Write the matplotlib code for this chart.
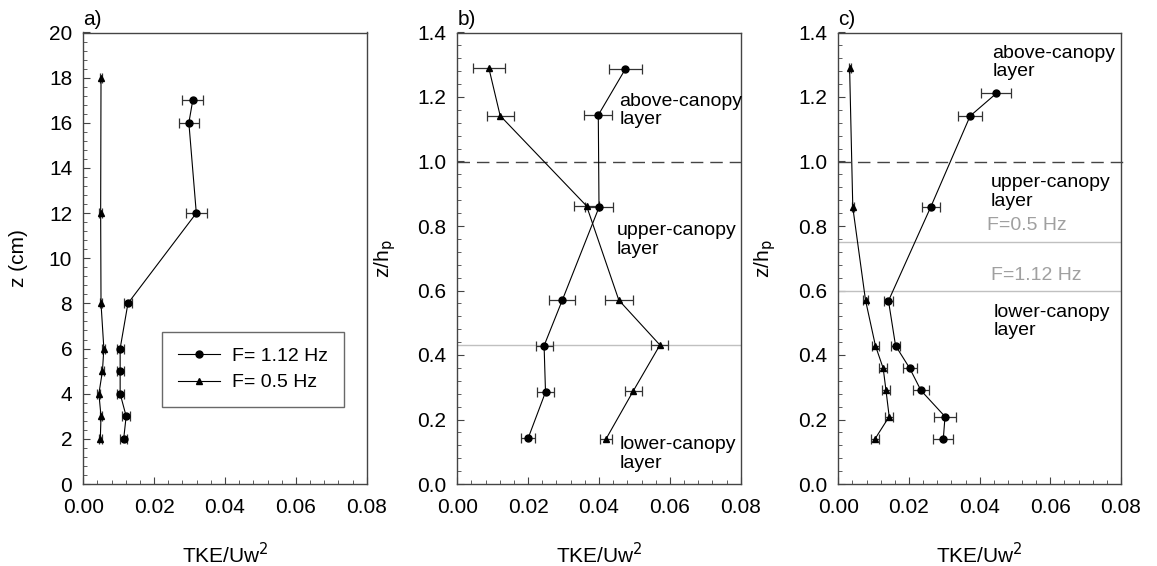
import numpy as np
import matplotlib.pyplot as plt
from matplotlib.lines import Line2D
from matplotlib.ticker import MultipleLocator, FormatStrFormatter

plt.rcParams['font.family'] = ['Liberation Sans', 'DejaVu Sans']
plt.rcParams['font.size'] = 15

# panel a: z in cm
za_hi = [17, 16, 12, 8, 6, 5, 4, 3, 2]
tke_a_hi = [0.0309, 0.0298, 0.0319, 0.0126, 0.0104, 0.0104, 0.0104, 0.0121, 0.0114]
err_a_hi = [0.0030, 0.0029, 0.0030, 0.0012, 0.0010, 0.0010, 0.0010, 0.0011, 0.0010]
za_lo = [18, 12, 8, 6, 5, 4, 3, 2]
tke_a_lo = [0.0050, 0.0049, 0.0050, 0.0058, 0.0054, 0.0044, 0.0050, 0.0048]
err_a_lo = [0.0004, 0.0004, 0.0004, 0.0004, 0.0004, 0.0004, 0.0004, 0.0004]

# panel b: z/hp
zb_hi = [1.286, 1.144, 0.858, 0.569, 0.429, 0.285, 0.142]
tke_b_hi = [0.0474, 0.0398, 0.0400, 0.0296, 0.0245, 0.0249, 0.0200]
err_b_hi = [0.0046, 0.0039, 0.0039, 0.0037, 0.0024, 0.0025, 0.0019]
zb_lo = [1.29, 1.142, 0.862, 0.570, 0.431, 0.289, 0.140]
tke_b_lo = [0.0089, 0.0121, 0.0365, 0.0456, 0.0572, 0.0497, 0.0420]
err_b_lo = [0.0045, 0.0038, 0.0035, 0.0039, 0.0024, 0.0025, 0.0018]

# panel c: z/hp
zc_hi = [1.211, 1.141, 0.860, 0.568, 0.429, 0.359, 0.290, 0.209, 0.138]
tke_c_hi = [0.0447, 0.0373, 0.0262, 0.0142, 0.0162, 0.0202, 0.0234, 0.0302, 0.0297]
err_c_hi = [0.0042, 0.0035, 0.0025, 0.0014, 0.0013, 0.0020, 0.0023, 0.0030, 0.0028]
zc_lo = [1.29, 0.858, 0.570, 0.429, 0.359, 0.290, 0.209, 0.140]
tke_c_lo = [0.0032, 0.0041, 0.0077, 0.0105, 0.0127, 0.0135, 0.0144, 0.0104]
err_c_lo = [0.0003, 0.0003, 0.0008, 0.0010, 0.0011, 0.0011, 0.0011, 0.0011]

fig = plt.figure(figsize=(11.57, 5.66), dpi=100)
W, H = 1157, 566
ax_a = fig.add_axes([83.3 / W, 1 - 484 / H, 283.4 / W, 451.5 / H])
ax_b = fig.add_axes([457.3 / W, 1 - 484 / H, 283.4 / W, 451.5 / H])
ax_c = fig.add_axes([838.3 / W, 1 - 484 / H, 282.7 / W, 451.5 / H])


def profile(ax, x, z, err, marker, ms):
    ax.errorbar(x, z, xerr=err, fmt='-', color='black', marker=marker, ms=ms,
                lw=0.8, elinewidth=0.9, ecolor='#333333', capsize=3.5,
                capthick=0.9)


def style(ax, ymax, ymajor, yminor, yfmt, ylabel, ylab_x, tag):
    ax.set_xlim(0, 0.08)
    ax.set_ylim(0, ymax)
    ax.xaxis.set_major_locator(MultipleLocator(0.02))
    ax.xaxis.set_minor_locator(MultipleLocator(0.004))
    ax.xaxis.set_major_formatter(FormatStrFormatter('%.2f'))
    ax.yaxis.set_major_locator(MultipleLocator(ymajor))
    ax.yaxis.set_minor_locator(MultipleLocator(yminor))
    ax.yaxis.set_major_formatter(FormatStrFormatter(yfmt))
    ax.tick_params(which='both', direction='in', top=False, right=False,
                   color='#444444')
    ax.tick_params(which='major', length=5)
    ax.tick_params(which='minor', length=3)
    ax.tick_params(axis='x', which='major', pad=10)
    ax.tick_params(axis='y', which='major', pad=8)
    for s in ax.spines.values():
        s.set_color('#444444')
        s.set_linewidth(1.0)
    ax.set_xlabel('TKE/Uw$^2$')
    ax.xaxis.set_label_coords(0.5, -0.128)
    ax.set_ylabel(ylabel)
    ax.yaxis.set_label_coords(ylab_x, 0.5)
    ax.text(0.0, 1.008, tag, transform=ax.transAxes, ha='left', va='bottom')


# panel a
profile(ax_a, tke_a_hi, za_hi, err_a_hi, 'o', 5)
profile(ax_a, tke_a_lo, za_lo, err_a_lo, '^', 4.5)
style(ax_a, 20, 2, 0.4, '%d', 'z (cm)', -0.195, 'a)')
handles = [Line2D([], [], color='black', lw=0.8, marker='o', ms=5),
           Line2D([], [], color='black', lw=0.8, marker='^', ms=4.5)]
leg = ax_a.legend(handles, ['F= 1.12 Hz', 'F= 0.5 Hz'], loc='upper left',
                  bbox_to_anchor=(0.278, 0.337), borderaxespad=0,
                  frameon=True, fancybox=False, edgecolor='#444444',
                  fontsize=14, handlelength=2.2, handletextpad=0.6,
                  borderpad=0.8, labelspacing=0.45, markerfirst=True)
leg.get_frame().set_linewidth(1.0)

# panel b
ax_b.axhline(1.0, color='#444444', lw=1.0, ls=(0, (9, 5)))
ax_b.axhline(0.43, color='#c0c0c0', lw=1.0)
profile(ax_b, tke_b_hi, zb_hi, err_b_hi, 'o', 5)
profile(ax_b, tke_b_lo, zb_lo, err_b_lo, '^', 4.5)
style(ax_b, 1.4, 0.2, 0.04, '%.1f', 'z/h$_\\mathrm{p}$', -0.21, 'b)')
ax_b.text(0.0457, 1.159, 'above-canopy\nlayer', ha='left', va='center',
          fontsize=14, linespacing=1.1)
ax_b.text(0.0450, 0.757, 'upper-canopy\nlayer', ha='left', va='center',
          fontsize=14, linespacing=1.1)
ax_b.text(0.0459, 0.093, 'lower-canopy\nlayer', ha='left', va='center',
          fontsize=14, linespacing=1.1)

# panel c
ax_c.axhline(1.0, color='#444444', lw=1.0, ls=(0, (9, 5)), clip_on=False,
             xmax=1.01)
ax_c.axhline(0.75, color='#c0c0c0', lw=1.0)
ax_c.axhline(0.60, color='#c0c0c0', lw=1.0)
profile(ax_c, tke_c_hi, zc_hi, err_c_hi, 'o', 5)
profile(ax_c, tke_c_lo, zc_lo, err_c_lo, '^', 4.5)
style(ax_c, 1.4, 0.2, 0.04, '%.1f', 'z/h$_\\mathrm{p}$', -0.215, 'c)')
ax_c.text(0.0436, 1.308, 'above-canopy\nlayer', ha='left', va='center',
          fontsize=14, linespacing=1.1)
ax_c.text(0.0430, 0.905, 'upper-canopy\nlayer', ha='left', va='center',
          fontsize=14, linespacing=1.1)
ax_c.text(0.0422, 0.80, 'F=0.5 Hz', ha='left', va='center', fontsize=14,
          color='#a0a0a0')
ax_c.text(0.0431, 0.645, 'F=1.12 Hz', ha='left', va='center', fontsize=14,
          color='#a0a0a0')
ax_c.text(0.0439, 0.503, 'lower-canopy\nlayer', ha='left', va='center',
          fontsize=14, linespacing=1.1)

fig.savefig('out.png', dpi=100)
